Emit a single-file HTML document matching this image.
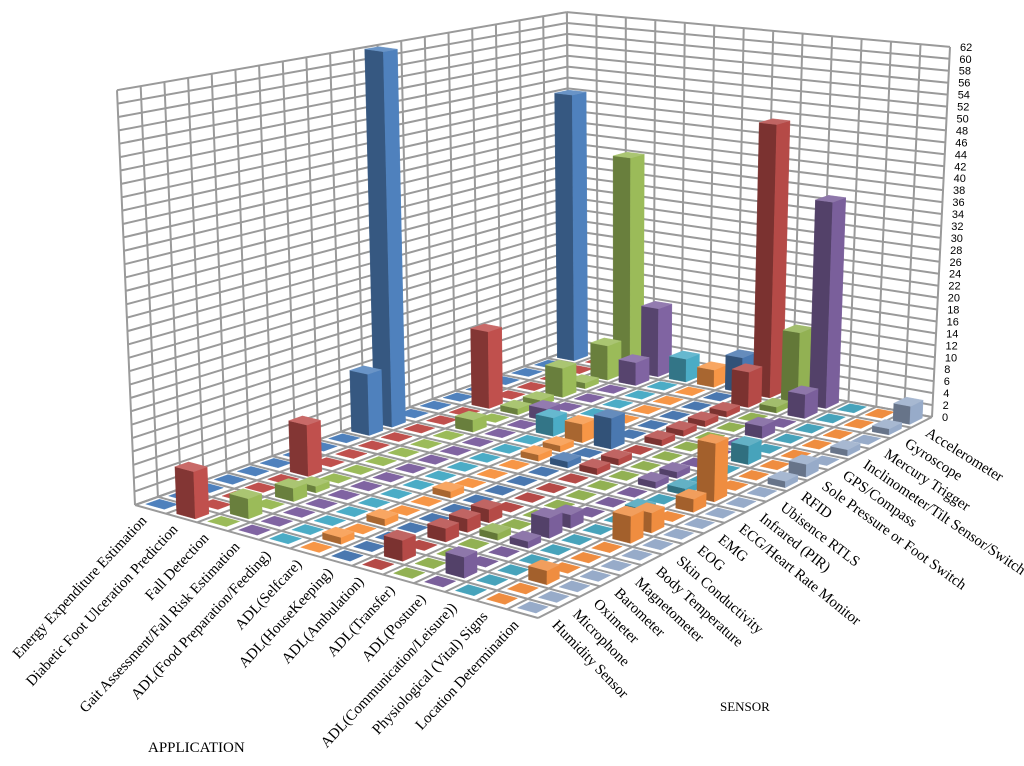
<!DOCTYPE html>
<html><head><meta charset="utf-8"><style>
html,body{margin:0;padding:0;background:#fff;}
svg{display:block;}
</style></head><body>
<svg id="chart" xmlns="http://www.w3.org/2000/svg" width="1024" height="766" viewBox="0 0 1024 766">
<rect x="0" y="0" width="1024" height="766" fill="#fff"/>
<g id="grid"></g>
<g id="bars"></g>
<g id="labels"></g>
<text x="148" y="752" font-family="Liberation Serif, serif" font-size="15" fill="#000">APPLICATION</text>
<text x="720" y="711" font-family="Liberation Serif, serif" font-size="13" fill="#000">SENSOR</text>
</svg>
<script>
const applications = ["Energy Expenditure Estimation","Diabetic Foot Ulceration Prediction","Fall Detection","Gait Assessment/Fall Risk Estimation","ADL(Food Preparation/Feeding)","ADL(Selfcare)","ADL(HouseKeeping)","ADL(Ambulation)","ADL(Transfer)","ADL(Posture)","ADL(Communication/Leisure))","Physiological (Vital) Signs","Location Determination"];
const sensors = ["Humidity Sensor","Microphone","Oximeter","Barometer","Magnetometer","Body Temperature","Skin Conductivity","EOG","EMG","ECG/Heart Rate Monitor","Infrared (PIR)","Ubisence RTLS","RFID","Sole Pressure or Foot Switch","GPS/Compass","Inclinometer/Tilt Sensor/Switch","Mercury Trigger","Gyroscope","Accelerometer"];
const zTicks = [0,2,4,6,8,10,12,14,16,18,20,22,24,26,28,30,32,34,36,38,40,42,44,46,48,50,52,54,56,58,60,62];
const energyValues     = [0,0,0,0,0,0,0,0,0,10,62,0,0,0,0,0,0,0,48];
const diabeticValues   = [7,0,0,0,0,8,0,0,0,0,0,0,0,13,0,0,0,0,0];
const fallValues       = [0,3,0,2,1,0,0,0,0,0,0,2,0,1,1,5,1,6,38];
const gaitValues       = [0,0,0,0,0,0,0,0,0,0,0,0,0,2,0,0,0,4,12];
const feedingValues    = [0,0,0,0,0,0,0,0,0,0,0,0,3,0,0,0,0,0,4];
const selfcareValues   = [0,1,0,1,0,0,1,0,0,0,1,1,3,0,0,0,0,0,3];
const housekeepValues  = [0,0,0,0,0,0,0,0,0,0,1,0,5,0,0,0,0,0,6];
const ambulationValues = [0,3,0,2,2,2,0,0,0,0,1,1,0,1,1,1,1,6,47];
const transferValues   = [0,0,0,0,1,0,0,0,0,0,0,0,0,0,0,0,0,1,12];
const postureValues    = [0,3,0,0,1,3,2,0,0,0,1,1,0,0,0,2,0,4,35];
const commValues       = [0,0,0,0,0,0,0,0,1,0,1,0,0,3,0,0,0,0,0];
const vitalValues      = [0,0,2,0,0,0,4,3,0,2,9,0,0,0,0,0,0,0,0];
const locationValues   = [0,0,0,0,0,0,0,0,0,0,0,0,1,2,0,1,0,1,3];
const seriesValues = [energyValues,diabeticValues,fallValues,gaitValues,feedingValues,selfcareValues,housekeepValues,ambulationValues,transferValues,postureValues,commValues,vitalValues,locationValues];

const NS = "http://www.w3.org/2000/svg";
const ZMAX = 62;
const CL=[135,505], CB=[570,350], CR=[932,417], CF=[538,618];
const SL=6.69, SB=5.45, SR=5.97, SF=7.2;
const KL=-0.29, KB=-0.05, KR=0.29, KF=0.05;
const palette = ["#4f81bd","#c0504d","#9bbb59","#8064a2","#4bacc6","#f79646","#4a78b0","#b54a47","#92b153","#7a5f9b","#47a3bb","#ef8d40","#97abc9"];
const nRows = applications.length, nCols = sensors.length;

function bil(a,b,c,d,u,v){
  return (1-v)*((1-u)*a+u*b) + v*((1-u)*d+u*c);
}
function P(u,v,z){
  const bx = bil(CL[0],CB[0],CR[0],CF[0],u,v);
  const by = bil(CL[1],CB[1],CR[1],CF[1],u,v);
  const s = bil(SL,SB,SR,SF,u,v);
  const k = bil(KL,KB,KR,KF,u,v);
  return [bx + z*k, by - z*s];
}
function shade(hex,f){
  const n=parseInt(hex.slice(1),16);
  let r=(n>>16)&255,g=(n>>8)&255,b=n&255;
  const m=c=>Math.max(0,Math.min(255,Math.round(f>1? c+(255-c)*(f-1): c*f)));
  return "rgb("+m(r)+","+m(g)+","+m(b)+")";
}
const grid=document.getElementById("grid");
const bars=document.getElementById("bars");
const labels=document.getElementById("labels");

function linePath(segs){
  return segs.map(s=>"M"+s[0][0].toFixed(1)+" "+s[0][1].toFixed(1)+"L"+s[1][0].toFixed(1)+" "+s[1][1].toFixed(1)).join("");
}
const wallSegs=[], rwallSegs=[], floorSegs=[];
for(let j=0;j<=nCols;j++){ wallSegs.push([P(j/nCols,0,0),P(j/nCols,0,ZMAX)]); floorSegs.push([P(j/nCols,0,0),P(j/nCols,1,0)]); }
for(let i=0;i<=nRows;i++){ rwallSegs.push([P(1,i/nRows,0),P(1,i/nRows,ZMAX)]); floorSegs.push([P(0,i/nRows,0),P(1,i/nRows,0)]); }
zTicks.forEach(z=>{ wallSegs.push([P(0,0,z),P(1,0,z)]); rwallSegs.push([P(1,0,z),P(1,1,z)]); });
[["back-wall-grid",wallSegs],["side-wall-grid",rwallSegs],["floor-grid",floorSegs]].forEach(g=>{
  const p=document.createElementNS(NS,"path");
  p.setAttribute("d",linePath(g[1]));
  p.setAttribute("stroke","#9a9a9a");
  p.setAttribute("stroke-width","2");
  p.setAttribute("fill","none");
  
  
  grid.appendChild(p);
});

function poly(pts,fill,parent,name){
  const p=document.createElementNS(NS,"polygon");
  p.setAttribute("points",pts.map(q=>q[0].toFixed(1)+","+q[1].toFixed(1)).join(" "));
  p.setAttribute("fill",fill);
  p.setAttribute("stroke",fill);
  p.setAttribute("stroke-width","0.4");
  
  
  parent.appendChild(p);
  return p;
}
const cells=[];
for(let i=0;i<nRows;i++) for(let j=0;j<nCols;j++) cells.push([i,j]);
cells.sort((a,b)=>(a[0]-a[1])-(b[0]-b[1]) || a[0]-b[0]);
cells.forEach(([i,j])=>{
  const val=seriesValues[i][j];
  const col=palette[i];
  const u0=(j+0.2)/nCols,u1=(j+0.8)/nCols,v0=(i+0.2)/nRows,v1=(i+0.8)/nRows;
  const h = val>0? val : 0.15;
  const g=document.createElementNS(NS,"g");
  
  
  bars.appendChild(g);
  if(val>0){
    poly([P(u0,v0,0),P(u0,v1,0),P(u0,v1,h),P(u0,v0,h)],shade(col,0.68),g,'bar-side');
    poly([P(u0,v1,0),P(u1,v1,0),P(u1,v1,h),P(u0,v1,h)],shade(col,1.0),g,'bar-front');
    poly([P(u0,v0,h),P(u1,v0,h),P(u1,v1,h),P(u0,v1,h)],shade(col,1.15),g,'bar-top');
  } else {
    poly([P(u0,v0,h),P(u1,v0,h),P(u1,v1,h),P(u0,v1,h)],shade(col,1.0),g,'bar-zero');
  }
});
zTicks.forEach(z=>{
  const p=P(1,1,z);
  const t=document.createElementNS(NS,"text");
  t.setAttribute("x",(p[0]+10).toFixed(1));
  t.setAttribute("y",(p[1]+4).toFixed(1));
  t.setAttribute("font-family","Liberation Sans, sans-serif");
  t.setAttribute("font-size","11");
  t.setAttribute("fill","#000");
  t.textContent=z;
  
  
  labels.appendChild(t);
});
sensors.forEach((s,j)=>{
  const p=P((j+0.5)/nCols,1,0);
  const ang=46-14*j/(nCols-1);
  const t=document.createElementNS(NS,"text");
  const x=p[0]+3,y=p[1]+13;
  t.setAttribute("x",x.toFixed(1));
  t.setAttribute("y",y.toFixed(1));
  t.setAttribute("transform","rotate("+ang.toFixed(1)+" "+x.toFixed(1)+" "+y.toFixed(1)+")");
  t.setAttribute("font-family","Liberation Serif, serif");
  t.setAttribute("font-size","15");
  t.setAttribute("fill","#000");
  t.textContent=s;
  
  
  labels.appendChild(t);
});
applications.forEach((a,i)=>{
  const p=P(0,(i+0.5)/nRows,0);
  const t=document.createElementNS(NS,"text");
  const x=p[0]-3,y=p[1]+12;
  t.setAttribute("x",x.toFixed(1));
  t.setAttribute("y",y.toFixed(1));
  t.setAttribute("text-anchor","end");
  t.setAttribute("transform","rotate(-47 "+x.toFixed(1)+" "+y.toFixed(1)+")");
  t.setAttribute("font-family","Liberation Serif, serif");
  t.setAttribute("font-size","15");
  t.setAttribute("fill","#000");
  t.textContent=a;
  
  
  labels.appendChild(t);
});
</script>
</body></html>
